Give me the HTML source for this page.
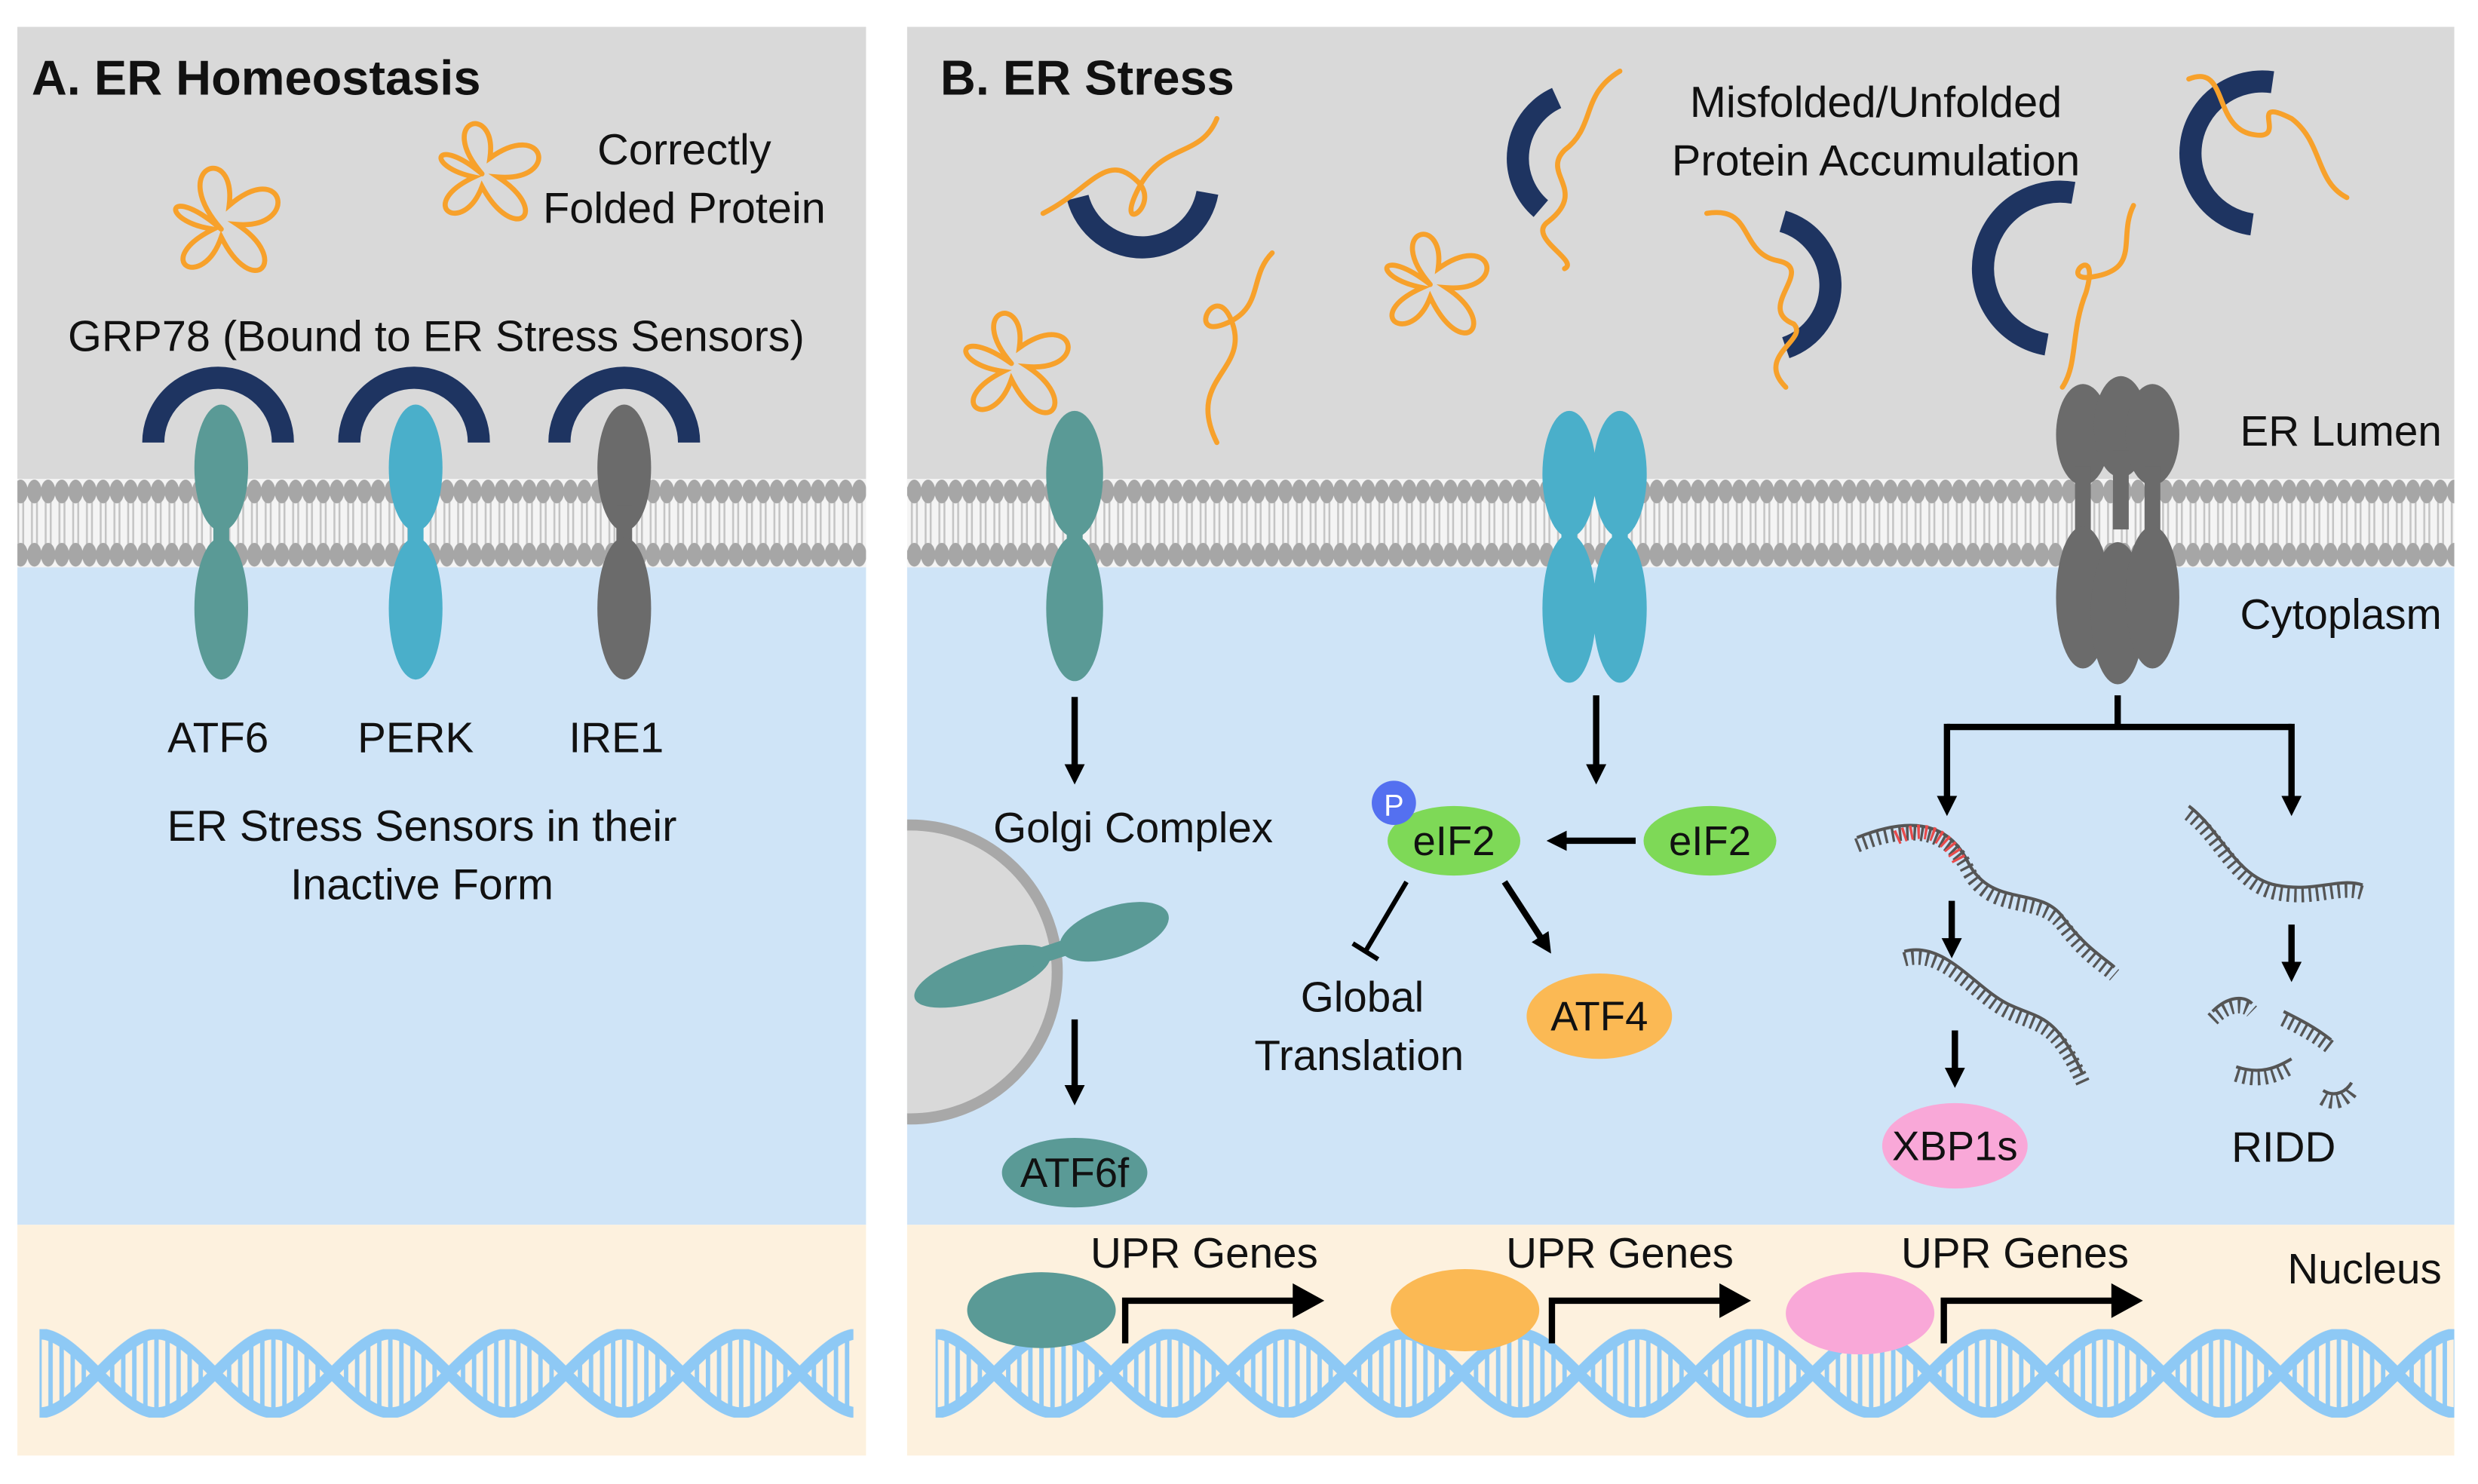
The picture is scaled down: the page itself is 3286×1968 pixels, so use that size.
<!DOCTYPE html>
<html><head><meta charset="utf-8"><style>
html,body{margin:0;padding:0;background:#fff;}
svg{display:block;}
text{font-family:"Liberation Sans",sans-serif;fill:#111;}
</style></head><body>
<svg width="3286" height="1968" viewBox="0 0 1568 939" preserveAspectRatio="none" xmlns="http://www.w3.org/2000/svg">
<defs>
<pattern id="mem" x="0" y="303" width="8.7" height="56" patternUnits="userSpaceOnUse">
<rect width="8.7" height="56" fill="#f4f4f4"/>
<line x1="2.8" y1="10" x2="2.8" y2="46" stroke="#c4c4c4" stroke-width="1.2"/>
<line x1="6" y1="10" x2="6" y2="46" stroke="#c4c4c4" stroke-width="1.2"/>
<ellipse cx="4.35" cy="8" rx="4.6" ry="7.5" fill="#a6a6a6"/>
<ellipse cx="4.35" cy="48" rx="4.6" ry="7.5" fill="#a6a6a6"/>
</pattern>
<g id="dnatile">
<g transform="translate(0,3)" stroke="#8ec9f5" fill="none">
<g stroke-width="2.8">
<line x1="0" y1="0" x2="0" y2="50"/><line x1="7" y1="1" x2="7" y2="49"/><line x1="14" y1="4" x2="14" y2="46"/><line x1="21" y1="9" x2="21" y2="41"/><line x1="28" y1="16" x2="28" y2="34"/>
<line x1="-7" y1="1" x2="-7" y2="49"/><line x1="-14" y1="4" x2="-14" y2="46"/><line x1="-21" y1="9" x2="-21" y2="41"/><line x1="-28" y1="16" x2="-28" y2="34"/>
<line x1="74" y1="0" x2="74" y2="50"/><line x1="81" y1="1" x2="81" y2="49"/><line x1="88" y1="4" x2="88" y2="46"/><line x1="95" y1="9" x2="95" y2="41"/><line x1="102" y1="16" x2="102" y2="34"/>
<line x1="67" y1="1" x2="67" y2="49"/><line x1="60" y1="4" x2="60" y2="46"/><line x1="53" y1="9" x2="53" y2="41"/><line x1="46" y1="16" x2="46" y2="34"/>
<line x1="148" y1="0" x2="148" y2="50"/><line x1="141" y1="1" x2="141" y2="49"/><line x1="134" y1="4" x2="134" y2="46"/><line x1="127" y1="9" x2="127" y2="41"/><line x1="120" y1="16" x2="120" y2="34"/>
</g>
<path d="M-74,50 C-50,50 -24,0 0,0 C24,0 50,50 74,50 C98,50 124,0 148,0 C172,0 198,50 222,50" stroke-width="7"/>
<path d="M-74,0 C-50,0 -24,50 0,50 C24,50 50,0 74,0 C98,0 124,50 148,50 C172,50 198,0 222,0" stroke-width="7"/>
</g></g>
<pattern id="dnaA" x="25" y="841" width="148" height="56" patternUnits="userSpaceOnUse"><use href="#dnatile"/></pattern>
<pattern id="dnaB" x="592" y="841" width="148" height="56" patternUnits="userSpaceOnUse"><use href="#dnatile"/></pattern>
<marker id="ar" viewBox="0 0 10 10" refX="5" refY="5" markerWidth="3.2" markerHeight="3.2" orient="auto"><path d="M0,0 L10,5 L0,10z" fill="#000"/></marker>
</defs>

<!-- Panel A -->
<rect x="11" y="17" width="537" height="290" fill="#d9d9d9"/>
<rect x="11" y="355" width="537" height="420" fill="#cfe4f7"/>
<rect x="11" y="775" width="537" height="146" fill="#fdf1de"/>
<rect x="11" y="303" width="537" height="56" fill="url(#mem)"/>
<rect x="25" y="841" width="515" height="56" fill="url(#dnaA)"/>

<!-- Panel B -->
<rect x="574" y="17" width="979" height="290" fill="#d9d9d9"/>
<rect x="574" y="355" width="979" height="420" fill="#cfe4f7"/>
<rect x="574" y="775" width="979" height="146" fill="#fdf1de"/>
<rect x="574" y="303" width="979" height="56" fill="url(#mem)"/>
<rect x="592" y="841" width="961" height="56" fill="url(#dnaB)"/>

<!-- Panel A content -->
<text x="20" y="60" font-size="31" font-weight="bold">A. ER Homeostasis</text>
<text x="433" y="104" font-size="27.5" text-anchor="middle">Correctly</text>
<text x="433" y="141" font-size="27.5" text-anchor="middle">Folded Protein</text>
<text x="276" y="222" font-size="27.5" text-anchor="middle">GRP78 (Bound to ER Stress Sensors)</text>
<g fill="none" stroke="#f7a12b" stroke-width="3.2" stroke-linecap="round">
<path d="M140,145 C105,105 150,90 145,130 C180,100 190,145 150,142 C185,165 160,190 140,150 C128,185 95,165 135,145 C100,140 105,115 140,145"/>
<path d="M305,110 C275,75 315,65 310,100 C345,75 355,115 315,112 C350,135 325,155 305,118 C293,150 262,130 300,112 C268,105 275,85 305,110"/>
</g>
<g fill="none" stroke="#1e3461" stroke-width="14">
<path d="M97,280 A41,41 0 0 1 179,280"/>
<path d="M221,280 A41,41 0 0 1 303,280"/>
<path d="M354,280 A41,41 0 0 1 436,280"/>
</g>
<g fill="#5a9a96"><ellipse cx="140" cy="296" rx="17" ry="40"/><rect x="135" y="320" width="10" height="50"/><ellipse cx="140" cy="385" rx="17" ry="45"/></g>
<g fill="#4aafca"><ellipse cx="263" cy="296" rx="17" ry="40"/><rect x="258" y="320" width="10" height="50"/><ellipse cx="263" cy="385" rx="17" ry="45"/></g>
<g fill="#6b6b6b"><ellipse cx="395" cy="296" rx="17" ry="40"/><rect x="390" y="320" width="10" height="50"/><ellipse cx="395" cy="385" rx="17" ry="45"/></g>
<text x="138" y="476" font-size="27" text-anchor="middle">ATF6</text>
<text x="263" y="476" font-size="27" text-anchor="middle">PERK</text>
<text x="390" y="476" font-size="27" text-anchor="middle">IRE1</text>
<text x="267" y="532" font-size="27.5" text-anchor="middle">ER Stress Sensors in their</text>
<text x="267" y="569" font-size="27.5" text-anchor="middle">Inactive Form</text>

<!-- Panel B content -->
<text x="595" y="60" font-size="31" font-weight="bold">B. ER Stress</text>
<text x="1187" y="74" font-size="27.5" text-anchor="middle">Misfolded/Unfolded</text>
<text x="1187" y="111" font-size="27.5" text-anchor="middle">Protein Accumulation</text>
<text x="1545" y="282" font-size="27" text-anchor="end">ER Lumen</text>
<text x="1545" y="398" font-size="27" text-anchor="end">Cytoplasm</text>
<text x="1545" y="812" font-size="27" text-anchor="end">Nucleus</text>

<g fill="none" stroke="#1e3461" stroke-width="14">
<path d="M682,125 A42,42 0 0 0 764,122"/>
<path d="M985,62 A42,42 0 0 0 975,132"/>
<path d="M1128,140 A42,42 0 0 1 1130,220"/>
<path d="M1438,52 A42,42 0 0 0 1425,142"/>
<path d="M1312,122 A42,42 0 0 0 1295,218"/>
</g>
<g fill="none" stroke="#f7a12b" stroke-width="3.2" stroke-linecap="round">
<path d="M640,230 C610,195 650,185 645,220 C680,195 690,235 650,232 C685,255 660,280 640,240 C628,275 595,255 635,235 C600,230 605,205 640,230"/>
<path d="M905,180 C875,145 915,135 910,170 C945,145 955,185 915,182 C950,205 925,230 905,188 C893,220 860,200 900,182 C866,175 873,155 905,180"/>
<path d="M660,135 C690,120 700,95 720,115 C735,130 705,150 720,120 C735,90 760,100 770,75"/>
<path d="M805,160 C790,175 800,195 775,205 C750,215 770,175 780,205 C790,235 750,240 770,280"/>
<path d="M1025,45 C1000,60 1010,80 990,95 C975,110 1005,120 980,140 C965,150 1000,165 990,170"/>
<path d="M1080,135 C1110,130 1100,160 1125,165 C1150,170 1110,195 1135,205 C1145,215 1110,225 1130,245"/>
<path d="M1385,50 C1410,40 1400,80 1425,85 C1450,90 1420,60 1450,75 C1470,90 1465,115 1485,125"/>
<path d="M1350,130 C1340,150 1355,170 1325,175 C1300,180 1330,150 1320,185 C1310,210 1315,230 1305,245"/>
</g>

<!-- ATF6 B -->
<g fill="#5a9a96"><ellipse cx="680" cy="300" rx="18" ry="40"/><rect x="675" y="325" width="10" height="45"/><ellipse cx="680" cy="385" rx="18" ry="46"/></g>
<line x1="680" y1="441" x2="680" y2="490" stroke="#000" stroke-width="4" marker-end="url(#ar)"/>
<svg x="574" y="500" width="200" height="230" overflow="hidden"><circle cx="2" cy="115" r="93" fill="#d9d9d9" stroke="#a8a8a8" stroke-width="7"/></svg>
<text x="717" y="533" font-size="27" text-anchor="middle">Golgi Complex</text>
<g fill="#5a9a96" transform="rotate(-18 660 600)">
<ellipse cx="618" cy="605" rx="45" ry="15"/><rect x="640" y="599" width="40" height="10"/><ellipse cx="706" cy="604" rx="36" ry="16"/>
</g>
<line x1="680" y1="645" x2="680" y2="693" stroke="#000" stroke-width="4" marker-end="url(#ar)"/>
<ellipse cx="680" cy="742" rx="46" ry="22" fill="#5a9a96"/>
<text x="680" y="751" font-size="26" text-anchor="middle">ATF6f</text>

<!-- PERK B -->
<g fill="#4aafca">
<ellipse cx="993" cy="300" rx="17" ry="40"/><ellipse cx="1025" cy="300" rx="17" ry="40"/>
<rect x="988" y="325" width="10" height="45"/><rect x="1020" y="325" width="10" height="45"/>
<ellipse cx="993" cy="385" rx="17" ry="47"/><ellipse cx="1025" cy="385" rx="17" ry="47"/>
</g>
<line x1="1010" y1="440" x2="1010" y2="490" stroke="#000" stroke-width="4" marker-end="url(#ar)"/>
<ellipse cx="1082" cy="532" rx="42" ry="22" fill="#7ed957"/>
<text x="1082" y="541" font-size="26" text-anchor="middle">eIF2</text>
<line x1="1035" y1="532" x2="985" y2="532" stroke="#000" stroke-width="4" marker-end="url(#ar)"/>
<ellipse cx="920" cy="532" rx="42" ry="22" fill="#7ed957"/>
<text x="920" y="541" font-size="26" text-anchor="middle">eIF2</text>
<circle cx="882" cy="508" r="14" fill="#5470f0"/>
<text x="882" y="516" font-size="19" text-anchor="middle" style="fill:#fff">P</text>
<line x1="890" y1="558" x2="864" y2="602" stroke="#000" stroke-width="3"/>
<line x1="856" y1="597" x2="872" y2="607" stroke="#000" stroke-width="3"/>
<line x1="952" y1="558" x2="978" y2="598" stroke="#000" stroke-width="4" marker-end="url(#ar)"/>
<text x="862" y="640" font-size="27" text-anchor="middle">Global</text>
<text x="860" y="677" font-size="27" text-anchor="middle">Translation</text>
<ellipse cx="1012" cy="643" rx="46" ry="27" fill="#fbb954"/>
<text x="1012" y="652" font-size="26" text-anchor="middle">ATF4</text>

<!-- IRE1 B -->
<g fill="#6b6b6b">
<ellipse cx="1318" cy="275" rx="17" ry="32"/><ellipse cx="1342" cy="270" rx="17" ry="32"/><ellipse cx="1362" cy="275" rx="17" ry="32"/>
<rect x="1313" y="295" width="10" height="40"/><rect x="1337" y="285" width="10" height="50"/><rect x="1357" y="295" width="10" height="40"/>
<ellipse cx="1318" cy="378" rx="17" ry="45"/><ellipse cx="1340" cy="388" rx="17" ry="45"/><ellipse cx="1362" cy="378" rx="17" ry="45"/>
</g>
<path d="M1340,440 V460 M1232,460 H1450" stroke="#000" stroke-width="4" fill="none"/>
<line x1="1232" y1="458" x2="1232" y2="510" stroke="#000" stroke-width="4" marker-end="url(#ar)"/>
<line x1="1450" y1="458" x2="1450" y2="510" stroke="#000" stroke-width="4" marker-end="url(#ar)"/>
<g fill="none" stroke="#555">
<g stroke-width="2">
<path d="M1175,530 C1200,520 1230,515 1245,545 C1260,575 1290,560 1305,580 C1320,600 1330,605 1338,612"/>
<path d="M1205,602 C1230,595 1250,625 1270,635 C1290,645 1300,640 1318,680"/>
<path d="M1385,510 C1405,525 1415,555 1440,560 C1465,565 1480,555 1495,560"/>
<path d="M1400,640 C1410,630 1420,630 1425,635 M1445,640 C1455,645 1465,650 1475,658 M1415,675 C1430,680 1440,676 1450,670 M1470,690 C1478,695 1485,690 1488,685"/>
</g>
<g stroke-width="9" stroke-dasharray="1.6 3" transform="translate(0,5)">
<path d="M1175,530 C1200,520 1230,515 1245,545 C1260,575 1290,560 1305,580 C1320,600 1330,605 1338,612"/>
<path d="M1205,602 C1230,595 1250,625 1270,635 C1290,645 1300,640 1318,680"/>
<path d="M1385,510 C1405,525 1415,555 1440,560 C1465,565 1480,555 1495,560"/>
<path d="M1400,640 C1410,630 1420,630 1425,635 M1445,640 C1455,645 1465,650 1475,658 M1415,675 C1430,680 1440,676 1450,670 M1470,690 C1478,695 1485,690 1488,685"/>
</g>
</g>
<path d="M1200,530 C1215,523 1230,525 1240,545" stroke="#e84b4b" stroke-width="9" fill="none" stroke-dasharray="1.6 3"/>
<line x1="1235" y1="570" x2="1235" y2="600" stroke="#000" stroke-width="4" marker-end="url(#ar)"/>
<line x1="1237" y1="652" x2="1237" y2="682" stroke="#000" stroke-width="4" marker-end="url(#ar)"/>
<line x1="1450" y1="585" x2="1450" y2="615" stroke="#000" stroke-width="4" marker-end="url(#ar)"/>
<ellipse cx="1237" cy="725" rx="46" ry="27" fill="#f9a8d8"/>
<text x="1237" y="734" font-size="26" text-anchor="middle">XBP1s</text>
<text x="1445" y="735" font-size="27" text-anchor="middle">RIDD</text>

<!-- Nucleus -->
<ellipse cx="659" cy="829" rx="47" ry="24" fill="#5a9a96"/>
<ellipse cx="927" cy="829" rx="47" ry="26" fill="#fbb954"/>
<ellipse cx="1177" cy="831" rx="47" ry="26" fill="#f9a8d8"/>
<g stroke="#000" stroke-width="4" fill="none">
<path d="M712,850 V823 H820"/><path d="M982,850 V823 H1090"/><path d="M1230,850 V823 H1338"/>
</g>
<path d="M818,812 L838,823 L818,834z M1088,812 L1108,823 L1088,834z M1336,812 L1356,823 L1336,834z" fill="#000"/>
<text x="762" y="802" font-size="27" text-anchor="middle">UPR Genes</text>
<text x="1025" y="802" font-size="27" text-anchor="middle">UPR Genes</text>
<text x="1275" y="802" font-size="27" text-anchor="middle">UPR Genes</text>
</svg>
</body></html>
